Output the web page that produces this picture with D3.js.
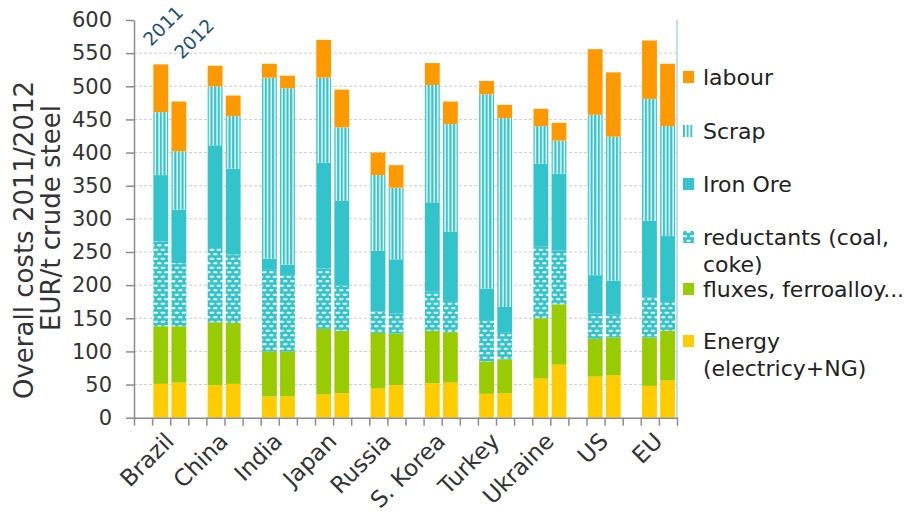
<!DOCTYPE html>
<html>
<head>
<meta charset="utf-8">
<script src="https://cdn.jsdelivr.net/npm/d3@7/dist/d3.min.js"></script>
<style>
  html, body { margin: 0; padding: 0; background: #fff; }
  svg { display: block; font-family: "DejaVu Sans", Verdana, sans-serif; }
</style>
</head>
<body>
<svg id="chart" width="914" height="515"></svg>
<script>
// Steel production cost breakdown, EUR per tonne of crude steel, 2011 vs 2012
const countries = ["Brazil", "China", "India", "Japan", "Russia", "S. Korea", "Turkey", "Ukraine", "US", "EU"];
const years = ["2011", "2012"];
const yTickValues = [0, 50, 100, 150, 200, 250, 300, 350, 400, 450, 500, 550, 600];

// Cost components per country (stacked bottom to top)
const energy2011     = [51, 49, 32, 35, 44, 52, 36, 59, 62, 48];
const energy2012     = [53, 51, 32, 37, 49, 53, 37, 80, 64, 56];
const fluxes2011     = [87, 95, 68, 99, 84, 79, 49, 91, 57, 73];
const fluxes2012     = [85, 92, 68, 94, 78, 76, 51, 91, 57, 75];
const reductants2011 = [128, 112, 123, 91, 32, 59, 61, 108, 38, 60];
const reductants2012 = [95, 103, 114, 68, 30, 47, 41, 81, 35, 45];
const ironOre2011    = [100, 155, 17, 160, 92, 135, 49, 125, 58, 116];
const ironOre2012    = [81, 130, 17, 128, 82, 105, 38, 116, 51, 98];
const scrap2011      = [95, 89, 273, 128, 114, 177, 293, 57, 242, 184];
const scrap2012      = [88, 79, 266, 111, 108, 162, 285, 50, 217, 166];
const labour2011     = [72, 31, 21, 57, 34, 33, 20, 26, 99, 88];
const labour2012     = [75, 31, 19, 57, 34, 34, 20, 27, 97, 94];

const CYAN = "#33c4cb";

const series = [
  { key: "energy",     legend: ["Energy", "(electricy+NG)"],   fill: "#ffcc00",       legendFill: "#ffcc00",           vals: [energy2011, energy2012] },
  { key: "fluxes",     legend: ["fluxes, ferroalloy..."],     fill: "#99cc00",       legendFill: "#99cc00",           vals: [fluxes2011, fluxes2012] },
  { key: "reductants", legend: ["reductants (coal,", "coke)"], fill: "url(#dots)",    legendFill: "url(#dotsLegend)",  vals: [reductants2011, reductants2012] },
  { key: "ironore",    legend: ["Iron Ore"],                   fill: CYAN,            legendFill: CYAN,                vals: [ironOre2011, ironOre2012] },
  { key: "scrap",      legend: ["Scrap"],                      fill: "url(#stripes)", legendFill: "url(#stripesLegend)", vals: [scrap2011, scrap2012] },
  { key: "labour",     legend: ["labour"],                     fill: "#ff9900",       legendFill: "#ff9900",           vals: [labour2011, labour2012] }
];

const svg = d3.select("#chart");

// Scales
const plotLeft = 134, plotRight = 677, plotTop = 20, plotBottom = 417.7;
const slots = countries.length * 3;
const x = d3.scaleLinear().domain([0, slots]).range([plotLeft, plotRight]);
const y = d3.scaleLinear().domain([0, 600]).range([plotBottom, plotTop]);
const slotW = x(1) - x(0);
const barInset = slotW * 0.07, barW = slotW * 0.82;

// Fill patterns: vertical stripes (scrap) and brick dashes (reductants)
const defs = svg.append("defs");
const period = slotW / 5;
function stripePattern(id, originX, p, whiteX, whiteW) {
  const pat = defs.append("pattern")
    .attr("id", id)
    .attr("patternUnits", "userSpaceOnUse")
    .attr("x", originX).attr("y", 0)
    .attr("width", p).attr("height", 20);
  pat.append("rect").attr("width", p).attr("height", 20).attr("fill", CYAN);
  pat.append("rect").attr("x", whiteX).attr("width", whiteW).attr("height", 20).attr("fill", "#fff");
}
stripePattern("stripes", plotLeft + barInset, period, 1.4, 1.35);
stripePattern("stripesLegend", 683, 3.7, 1.9, 1.8);

function dotPattern(id, originX) {
  const pat = defs.append("pattern")
    .attr("id", id)
    .attr("patternUnits", "userSpaceOnUse")
    .attr("x", originX).attr("y", 0)
    .attr("width", 7).attr("height", 9);
  pat.append("rect").attr("width", 7).attr("height", 9).attr("fill", CYAN);
  [[1.0, 1.2], [4.5, 5.7], [-2.5, 5.7]].forEach(([px, py]) => {
    pat.append("rect").attr("x", px).attr("y", py).attr("width", 4.2).attr("height", 2)
      .attr("rx", 0.9).attr("fill", "#fff");
  });
}
dotPattern("dots", plotLeft + barInset);
dotPattern("dotsLegend", 682);

// Gridlines
svg.append("g")
  .selectAll("line")
  .data(yTickValues.filter(v => v > 0 && v < 600))
  .join("line")
  .attr("x1", plotLeft).attr("x2", plotRight)
  .attr("y1", d => y(d)).attr("y2", d => y(d))
  .attr("stroke", "#cfcfcf").attr("stroke-width", 1)
  .attr("stroke-dasharray", "3,2");

// Right border of plot area
svg.append("line")
  .attr("x1", plotRight).attr("x2", plotRight)
  .attr("y1", plotTop).attr("y2", plotBottom)
  .attr("stroke", "#a9d9e6").attr("stroke-width", 1.5);

// Stacked bars
const bars = [];
countries.forEach((c, ci) => {
  years.forEach((yr, yi) => {
    let base = 0;
    series.forEach(s => {
      const v = s.vals[yi][ci];
      bars.push({ country: c, year: yr, key: s.key, fill: s.fill, slot: ci * 3 + 1 + yi, y0: base, y1: base + v });
      base += v;
    });
  });
});

svg.append("g")
  .selectAll("rect")
  .data(bars)
  .join("rect")
  .attr("x", d => x(d.slot) + barInset)
  .attr("width", barW)
  .attr("y", d => y(d.y1))
  .attr("height", d => y(d.y0) - y(d.y1))
  .attr("fill", d => d.fill);

// Axes
const axisColor = "#8c8c8c";
const yAxis = svg.append("g")
  .attr("transform", `translate(${plotLeft},0)`)
  .call(d3.axisLeft(y).tickValues(yTickValues).tickSize(8).tickSizeOuter(0).tickPadding(14));
yAxis.selectAll("path, line").attr("stroke", axisColor).attr("stroke-width", 1.5);
yAxis.selectAll("text").attr("font-size", 21).attr("fill", "#333")
  .attr("font-family", "DejaVu Sans, Verdana, sans-serif");

const xAxis = svg.append("g")
  .attr("transform", `translate(0,${plotBottom})`)
  .call(d3.axisBottom(x).tickValues(d3.range(slots + 1)).tickSize(8).tickSizeOuter(0).tickFormat(""));
xAxis.selectAll("path, line").attr("stroke", axisColor).attr("stroke-width", 1.5);

// Country labels
svg.append("g")
  .selectAll("text")
  .data(countries)
  .join("text")
  .attr("transform", (d, i) => `translate(${x(i * 3 + 2) + 5},${plotBottom + 25}) rotate(-45)`)
  .attr("text-anchor", "end")
  .attr("font-size", 23)
  .attr("fill", "#333")
  .text(d => d);

// Year labels over the first pair of bars
const yearPos = [[151, 47], [182, 60]];
svg.append("g")
  .selectAll("text")
  .data(years)
  .join("text")
  .attr("transform", (d, i) => `translate(${yearPos[i][0]},${yearPos[i][1]}) rotate(-45)`)
  .attr("font-size", 18.5)
  .attr("fill", "#1f4e79")
  .text(d => d);

// Y-axis title
const title = svg.append("g").attr("fill", "#333").attr("font-size", 26).attr("text-anchor", "middle");
title.append("text").attr("transform", "translate(33,240) rotate(-90)").text("Overall costs 2011/2012");
title.append("text").attr("transform", "translate(60,218) rotate(-90)").text("EUR/t crude steel");

// Legend (top to bottom: labour ... Energy)
const legendCenters = [77, 131, 184, 237, 289, 341];
const legend = svg.append("g");
series.slice().reverse().forEach((s, i) => {
  const cy = legendCenters[i];
  legend.append("rect")
    .attr("x", 683).attr("y", cy - 6)
    .attr("width", 11).attr("height", 12)
    .attr("fill", s.legendFill);
  const t = legend.append("text")
    .attr("x", 703).attr("y", cy + 7.5)
    .attr("font-size", 22)
    .attr("fill", "#222");
  s.legend.forEach((line, li) => {
    t.append("tspan").attr("x", 703).attr("dy", li === 0 ? 0 : 27).text(line);
  });
});
</script>
</body>
</html>
